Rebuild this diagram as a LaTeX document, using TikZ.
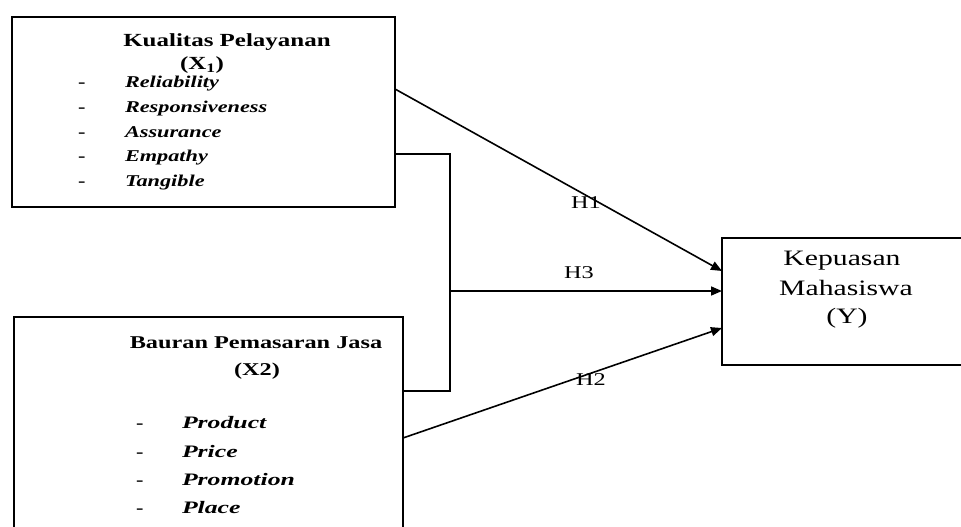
\documentclass[tikz,border=0pt]{standalone}
\usepackage{fontspec}
\setmainfont[FakeStretch=1.35]{Liberation Serif}
\newfontfamily\mixfont[FakeStretch=1.47]{Liberation Serif}
\usetikzlibrary{arrows.meta}
\begin{document}
\begin{tikzpicture}[x=1pt,y=-1pt,
  box/.style={draw, line width=1.8pt, inner sep=0pt, outer sep=0pt, anchor=north west},
  txt/.style={inner sep=0pt, outer sep=0pt},
  head/.style={txt, anchor=base, font=\fontsize{18.5}{20}\selectfont\bfseries},
  item/.style={txt, anchor=base west, font=\fontsize{16.5}{18}\selectfont\bfseries\itshape},
  bullet/.style={txt, anchor=base west, font=\fontsize{16.5}{18}\selectfont\bfseries},
  mitem/.style={txt, anchor=base west, font=\mixfont\fontsize{17.5}{19}\selectfont\bfseries\itshape},
  ytext/.style={txt, anchor=base, font=\fontsize{22}{24}\selectfont},
  hyp/.style={txt, anchor=base, font=\fontsize{18}{19}\selectfont},
  link/.style={line width=1.6pt},
  arrowlink/.style={link, -{Triangle[length=11pt,width=9pt]}},
]
\fill[white] (0,0) rectangle (961,527);
\useasboundingbox (0,0) rectangle (961,527);
\begin{scope}
\clip (0,0) rectangle (961,527);

% the three variable boxes
\node[box, minimum width=383pt, minimum height=190pt] (x1) at (12,17) {};
\node[box, minimum width=389pt, minimum height=260pt] (x2) at (14,317) {};
\node[box, minimum width=300pt, minimum height=127pt] (y) at (722,238) {};

% box X1 contents
\node[head] (x1title) at (227,47) {Kualitas Pelayanan};
\node[head] (x1sym) at (202,70) {(X\textsubscript{1})};
\node[bullet] (d11) at (78,88) {-};
\node[item] (i11) at (125,88) {Reliability};
\node[bullet] (d12) at (78,112) {-};
\node[item] (i12) at (125,112) {Responsiveness};
\node[bullet] (d13) at (78,137) {-};
\node[item] (i13) at (125,137) {Assurance};
\node[bullet] (d14) at (78,161) {-};
\node[item] (i14) at (125,161) {Empathy};
\node[bullet] (d15) at (78,186) {-};
\node[item] (i15) at (125,186) {Tangible};

% box X2 contents
\node[head, font=\fontsize{18}{20}\selectfont\bfseries] (x2title) at (256,348) {Bauran Pemasaran Jasa};
\node[head, font=\fontsize{18}{20}\selectfont\bfseries] (x2sym) at (257,375) {(X2)};
\node[bullet] (d21) at (136,428) {-};
\node[mitem] (i21) at (182,428) {Product};
\node[bullet] (d22) at (136,457) {-};
\node[mitem] (i22) at (182,457) {Price};
\node[bullet] (d23) at (136,485) {-};
\node[mitem] (i23) at (182,485) {Promotion};
\node[bullet] (d24) at (136,513) {-};
\node[mitem] (i24) at (182,513) {Place};

% box Y contents
\node[ytext] (y1) at (842,265) {Kepuasan};
\node[ytext] (y2) at (846,295) {Mahasiswa};
\node[ytext] (y3) at (847,323) {(Y)};

% connector heights
\coordinate (r1s) at (0,89);
\coordinate (r1e) at (0,271);
\coordinate (r2s) at (0,438);
\coordinate (r2e) at (0,328);
\coordinate (jt) at (450,154);
\coordinate (jb) at (450,391);
\coordinate (jm) at (450,291);

% joint effect bracket (H3)
\draw[link] (x1.east |- jt) -- (jt) -- (jb) -- (x2.east |- jb);
\draw[arrowlink] (jm) -- (y.west |- jm);

% direct effects H1 and H2
\draw[arrowlink] (x1.east |- r1s) -- (y.west |- r1e);
\draw[arrowlink] (x2.east |- r2s) -- (y.west |- r2e);

% hypothesis labels
\node[hyp] (h1) at (586,208) {H1};
\node[hyp] (h3) at (579,278) {H3};
\node[hyp] (h2) at (591,385) {H2};
\end{scope}
\end{tikzpicture}
\end{document}
